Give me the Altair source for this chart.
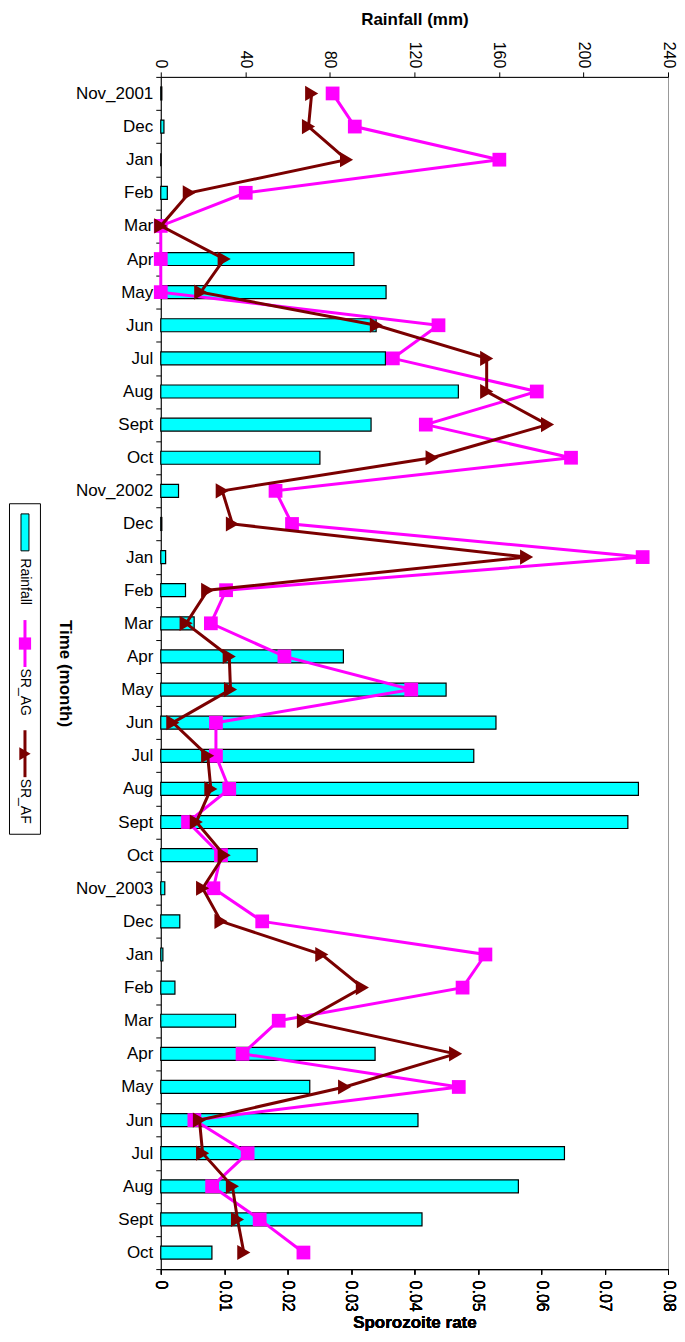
import altair as alt
import pandas as pd

months = ["Nov_2001", "Dec", "Jan", "Feb", "Mar", "Apr", "May", "Jun", "Jul", "Aug", "Sept", "Oct",
          "Nov_2002", "Dec", "Jan", "Feb", "Mar", "Apr", "May", "Jun", "Jul", "Aug", "Sept", "Oct",
          "Nov_2003", "Dec", "Jan", "Feb", "Mar", "Apr", "May", "Jun", "Jul", "Aug", "Sept", "Oct"]

rainfall = [0.5, 1.5, 0, 3.1, 0, 91.4, 106.6, 101.9, 106.3, 140.8, 99.5, 75.3,
            8.4, 0.5, 2.3, 11.7, 15.8, 86.4, 135, 158.6, 148.1, 226, 221, 45.6,
            1.9, 9, 1, 6.7, 35.4, 101.4, 70.5, 121.7, 191, 169.2, 123.6, 24.2]

sr_ag = [0.0271, 0.0306, 0.0534, 0.0134, 0.0, 0.0, 0.0, 0.0438, 0.0366, 0.0593, 0.0418, 0.0647,
         0.0181, 0.0207, 0.076, 0.0103, 0.0079, 0.0195, 0.0395, 0.0087, 0.0087, 0.0108, 0.0043, 0.0095,
         0.0083, 0.016, 0.0512, 0.0476, 0.0186, 0.0129, 0.047, 0.0053, 0.0137, 0.0081, 0.0156, 0.0225]

sr_af = [0.0238, 0.0233, 0.0293, 0.0045, 0.0, 0.010, 0.0063, 0.034, 0.0514, 0.0514, 0.061, 0.0428,
         0.0097, 0.0113, 0.0577, 0.0074, 0.004, 0.0108, 0.011, 0.0019, 0.0074, 0.0079, 0.0056, 0.010,
         0.0066, 0.0095, 0.0254, 0.0318, 0.0225, 0.0465, 0.029, 0.0061, 0.0066, 0.0113, 0.0121, 0.0131]

series_names = ["Rainfall", "SR_AG", "SR_AF"]
rain_ticks = [0, 40, 80, 120, 160, 200, 240]
sr_ticks = [0, 0.01, 0.02, 0.03, 0.04, 0.05, 0.06, 0.07, 0.08]

FONT = "Liberation Sans"
CYAN = "#00FFFF"
MAGENTA = "#FF00FF"
MAROON = "#7A0000"

keys = [f"{i:02d}|{m}" for i, m in enumerate(months)]
df = pd.DataFrame({"key": keys, "idx": list(range(len(keys))),
                   "rain": rainfall, "ag": sr_ag, "af": sr_af})

y_enc = alt.Y(
    "key:N", sort=keys,
    scale=alt.Scale(paddingInner=0, paddingOuter=0),
    axis=alt.Axis(title="Time (month)", titleAngle=90, titleFont=FONT, titleFontSize=17,
                  titleFontWeight="bold", titleColor="black", titlePadding=20,
                  labelExpr="split(datum.label,'|')[1]", labelFont=FONT, labelFontSize=17,
                  labelColor="black", labelPadding=3, tickBand="extent", tickSize=5,
                  tickColor="black", domainColor="black", grid=False),
)

base = alt.Chart(df)

bars = base.mark_bar(size=13, fill=CYAN, stroke="black", strokeWidth=1.2).encode(
    x=alt.X("rain:Q", scale=alt.Scale(domain=[0, 240], nice=False),
            axis=alt.Axis(orient="top", values=rain_ticks, title="Rainfall (mm)",
                          labelAngle=90, labelAlign="right", labelBaseline="middle",
                          labelFont=FONT, labelFontSize=16, labelColor="black", labelPadding=4,
                          titleFont=FONT, titleFontSize=17, titleFontWeight="bold",
                          titleColor="black", titlePadding=13, tickSize=5, tickColor="black",
                          domainColor="black", grid=False)),
    y=y_enc,
)

x_sr = alt.X("rate:Q", scale=alt.Scale(domain=[0, 0.08], nice=False),
             axis=alt.Axis(orient="bottom", values=sr_ticks, format=".2~f", title="Sporozoite rate",
                           labelAngle=90, labelAlign="left", labelBaseline="middle",
                           labelFont=FONT, labelFontSize=16, labelColor="black", labelPadding=6,
                           titleFont=FONT, titleFontSize=17, titleFontWeight="bold",
                           titleColor="black", titlePadding=3, tickSize=5, tickColor="black",
                           domainColor="black", grid=False))

ag_base = base.transform_calculate(rate="datum.ag")
af_base = base.transform_calculate(rate="datum.af")

ag_line = ag_base.mark_line(color=MAGENTA, strokeWidth=3).encode(x=x_sr, y=y_enc, order="idx:Q")
ag_pts = ag_base.mark_point(shape="square", filled=True, color=MAGENTA, size=190, opacity=1).encode(x=x_sr, y=y_enc)
af_line = af_base.mark_line(color=MAROON, strokeWidth=3).encode(x=x_sr, y=y_enc, order="idx:Q")
af_pts = af_base.mark_point(shape="triangle-right", filled=True, color=MAROON, size=230, opacity=1).encode(x=x_sr, y=y_enc)

main = alt.layer(bars, ag_line, ag_pts, af_line, af_pts).resolve_scale(x="independent").properties(
    width=508, height=1194)

# legend (rotated, as in the original)
leg_df = pd.DataFrame({"name": series_names})
lbase = alt.Chart(leg_df).encode(
    y=alt.Y("name:N", sort=series_names, scale=alt.Scale(type="point", padding=0.5), axis=None),
    x=alt.value(16),
)
swatch = lbase.transform_filter(alt.datum.name == "Rainfall").mark_point(
    shape="M-0.216,-1H0.216V1H-0.216Z", size=1369, filled=True, fill=CYAN, stroke="black",
    strokeWidth=1, opacity=1, yOffset=-26)
ag_l = lbase.transform_filter(alt.datum.name == "SR_AG").mark_point(
    shape="M0,-1L0,1", size=2209, filled=False, stroke=MAGENTA, strokeWidth=3, opacity=1, yOffset=-25)
ag_s = lbase.transform_filter(alt.datum.name == "SR_AG").mark_point(
    shape="square", size=150, filled=True, color=MAGENTA, opacity=1, yOffset=-25)
af_l = lbase.transform_filter(alt.datum.name == "SR_AF").mark_point(
    shape="M0,-1L0,1", size=2209, filled=False, stroke=MAROON, strokeWidth=3, opacity=1, yOffset=-25)
af_s = lbase.transform_filter(alt.datum.name == "SR_AF").mark_point(
    shape="triangle-right", size=170, filled=True, color=MAROON, opacity=1, yOffset=-25)
ltext = lbase.mark_text(angle=90, align="left", baseline="middle", font=FONT, fontSize=14,
                        color="black").encode(text="name:N")

legend = alt.layer(swatch, ag_l, ag_s, af_l, af_s, ltext).properties(
    width=31, height=331, view=alt.ViewBackground(stroke="black", strokeWidth=1))

spacer = alt.Chart(leg_df).mark_point(opacity=0, size=1).encode(
    x=alt.value(1), y=alt.value(1)).properties(
    width=31, height=425, view=alt.ViewBackground(stroke="transparent"))

left_col = alt.vconcat(spacer, legend, spacing=0)

chart = alt.hconcat(left_col, main, spacing=14).properties(
    padding=0
).configure_view(stroke="#999999", strokeWidth=1)

chart.save("out.html", embed_options={"renderer": "svg", "actions": False})
